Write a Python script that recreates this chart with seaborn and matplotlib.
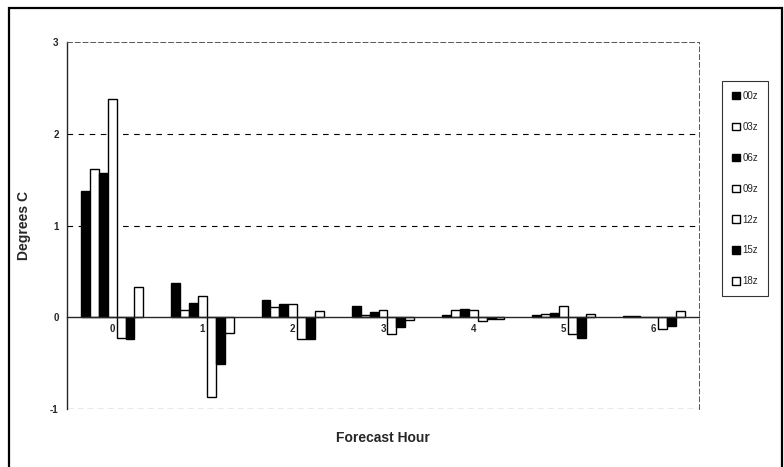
import pandas as pd
import matplotlib
matplotlib.use("Agg")
import matplotlib.pyplot as plt
import seaborn as sns
from matplotlib.patches import Rectangle

hours = ["0", "1", "2", "3", "4", "5", "6"]
runs = ["00z", "03z", "06z", "09z", "12z", "15z", "18z"]
run_colors = ["black", "white", "black", "white", "white", "black", "white"]

bias_00z = [1.38, 0.37, 0.19, 0.12, 0.03, 0.03, 0.01]
bias_03z = [1.62, 0.08, 0.11, 0.03, 0.08, 0.04, 0.01]
bias_06z = [1.57, 0.16, 0.15, 0.06, 0.09, 0.05, 0.00]
bias_09z = [2.38, 0.23, 0.15, 0.08, 0.08, 0.12, 0.00]
bias_12z = [-0.22, -0.87, -0.24, -0.18, -0.04, -0.18, -0.13]
bias_15z = [-0.24, -0.51, -0.24, -0.10, -0.02, -0.22, -0.09]
bias_18z = [0.33, -0.17, 0.07, -0.03, -0.02, 0.04, 0.07]

series = [bias_00z, bias_03z, bias_06z, bias_09z, bias_12z, bias_15z, bias_18z]
rows = []
for run, vals in zip(runs, series):
    for h, v in zip(hours, vals):
        rows.append({"hour": h, "run": run, "value": v})
df = pd.DataFrame(rows)

sns.set_style("white")
plt.rcParams["font.family"] = ["Liberation Sans", "DejaVu Sans"]

fig = plt.figure(figsize=(7.84, 4.67), dpi=100)
ax = fig.add_axes([0.0855, 0.124, 0.806, 0.786])

sns.barplot(data=df, x="hour", y="value", hue="run", order=hours, hue_order=runs,
            palette=run_colors, edgecolor="black", linewidth=1.0, width=0.69,
            saturation=1, ax=ax)

# move the category axis to y = 0 first (this resets the ticks)
ax.spines["bottom"].set_position(("data", 0))

ax.set_ylim(-1, 3)
ax.set_xlim(-0.5, 6.5)
ax.set_yticks([-1, 0, 1, 2, 3])
ax.set_yticklabels(["-1", "0", "1", "2", "3"], fontsize=7, fontweight="bold")
ax.set_xticks(range(len(hours)))
ax.set_xticklabels(hours, fontsize=7, fontweight="bold")
ax.set_xticks([i + 0.5 for i in range(-1, 7)], minor=True)
ax.tick_params(axis="x", which="major", length=0, pad=5)
ax.tick_params(axis="x", which="minor", length=3, width=0.6, direction="out")
ax.tick_params(axis="y", length=0, pad=6)

ax.spines["bottom"].set_linewidth(1.0)
ax.spines["left"].set_linewidth(1.0)
for s in ["top", "right"]:
    ax.spines[s].set_linestyle((0, (5, 3)))
    ax.spines[s].set_linewidth(0.7)
    ax.spines[s].set_color("#555555")
ax.axhline(-1, color="#555555", linewidth=0.9, linestyle=(0, (5, 3)))
for y in [1, 2]:
    ax.axhline(y, color="black", linewidth=0.8, linestyle=(0, (5, 5)), zorder=0)

ax.set_xlabel("")
ax.set_ylabel("Degrees C", fontsize=10, fontweight="bold", labelpad=14)
fig.text(0.488, 0.063, "Forecast Hour", ha="center", va="center",
         fontsize=10, fontweight="bold")

handles, labels = ax.get_legend_handles_labels()
ax.legend(handles, labels, loc="upper left", bbox_to_anchor=(0.921, 0.826),
          bbox_transform=fig.transFigure, fontsize=7, frameon=True,
          fancybox=False, edgecolor="black", handlelength=0.8, handleheight=0.8,
          handletextpad=0.3, labelspacing=2.15, borderpad=1.0,
          borderaxespad=0)
ax.get_legend().get_frame().set_linewidth(0.8)

fig.patches.append(Rectangle((0.011, -0.01), 0.986, 0.992, transform=fig.transFigure,
                             fill=False, edgecolor="black", linewidth=1.6))

fig.savefig("out.png", dpi=100)
